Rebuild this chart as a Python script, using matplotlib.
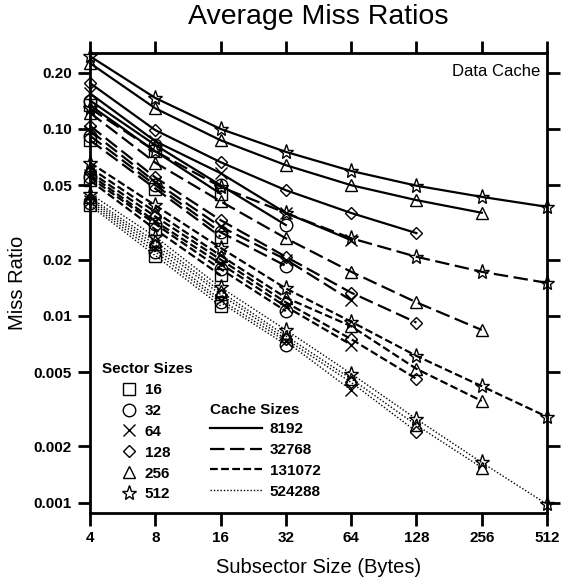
import numpy as np
import matplotlib.pyplot as plt
from matplotlib.lines import Line2D
from matplotlib.ticker import NullLocator

plt.rcParams['font.family'] = ['Liberation Sans', 'DejaVu Sans']

subsector_sizes = [4, 8, 16, 32, 64, 128, 256, 512]
sector_sizes = [16, 32, 64, 128, 256, 512]
cache_sizes = [8192, 32768, 131072, 524288]

# miss ratio, one row per sector size, subsector sizes 4 .. sector size
miss_8192 = [
    [0.134, 0.076, 0.045],
    [0.142, 0.082, 0.050, 0.0306],
    [0.155, 0.086, 0.058, 0.0355, 0.0254],
    [0.176, 0.0986, 0.0664, 0.047, 0.0355, 0.0277],
    [0.225, 0.129, 0.087, 0.064, 0.050, 0.0416, 0.0356],
    [0.245, 0.1465, 0.100, 0.0754, 0.0596, 0.0497, 0.0433, 0.0383],
]
miss_32768 = [
    [0.087, 0.048, 0.0265],
    [0.092, 0.050, 0.028, 0.0185],
    [0.098, 0.052, 0.030, 0.020, 0.0121],
    [0.104, 0.055, 0.0325, 0.0207, 0.0133, 0.0092],
    [0.122, 0.066, 0.041, 0.026, 0.0172, 0.0118, 0.0084],
    [0.129, 0.076, 0.049, 0.0355, 0.026, 0.0207, 0.0172, 0.0150],
]
miss_131072 = [
    [0.053, 0.029, 0.0165],
    [0.055, 0.031, 0.0178, 0.0106],
    [0.057, 0.032, 0.019, 0.0112, 0.0070],
    [0.059, 0.034, 0.020, 0.0118, 0.0075, 0.0046],
    [0.062, 0.036, 0.021, 0.0125, 0.0088, 0.0052, 0.0035],
    [0.066, 0.039, 0.0231, 0.0140, 0.0093, 0.0061, 0.0042, 0.00288],
]
miss_524288 = [
    [0.039, 0.021, 0.0113],
    [0.040, 0.022, 0.0118, 0.0070],
    [0.041, 0.023, 0.0122, 0.0073, 0.0040],
    [0.042, 0.024, 0.0130, 0.0075, 0.0044, 0.0024],
    [0.043, 0.025, 0.0135, 0.0078, 0.0046, 0.0026, 0.00154],
    [0.045, 0.0265, 0.0142, 0.0084, 0.0049, 0.0028, 0.00164, 0.00098],
]

y_ticks = [0.001, 0.002, 0.005, 0.01, 0.02, 0.05, 0.10, 0.20]
y_tick_labels = ['0.001', '0.002', '0.005', '0.01', '0.02', '0.05', '0.10', '0.20']

markers = ['s', 'o', 'x', 'D', '^', '*']
marker_sizes = [9, 9, 9, 6.5, 9, 11]
line_styles = [
    dict(linestyle='-', linewidth=1.6),
    dict(linestyle=(0, (6.5, 2.5)), linewidth=1.6),
    dict(linestyle=(0, (3.5, 1.5)), linewidth=1.6),
    dict(linestyle=(0, (1, 1.4)), linewidth=1.0),
]

fig = plt.figure(figsize=(5.73, 5.77), dpi=100)
ax = fig.add_axes([90 / 573, 1 - 513 / 577, 457 / 573, 460 / 577])

all_miss = [miss_8192, miss_32768, miss_131072, miss_524288]
for c, miss in enumerate(all_miss):
    for s, vals in enumerate(miss):
        xs = subsector_sizes[:len(vals)]
        ax.plot(xs, vals, color='black', marker=markers[s], markersize=marker_sizes[s],
                markerfacecolor='none', markeredgecolor='black', markeredgewidth=1.0,
                clip_on=False, **line_styles[c])

ax.set_xscale('log', base=2)
ax.set_yscale('log')
ax.set_xlim(4, 512)
ax.set_ylim(0.00088, 0.255)
ax.set_xticks(subsector_sizes)
ax.set_xticklabels([str(v) for v in subsector_sizes])
ax.set_yticks(y_ticks)
ax.set_yticklabels(y_tick_labels)
ax.xaxis.set_minor_locator(NullLocator())
ax.yaxis.set_minor_locator(NullLocator())
ax.tick_params(direction='out', length=9, width=2, top=True, right=True,
               labeltop=False, labelright=False, labelsize=11, pad=4)
for lbl in ax.get_xticklabels() + ax.get_yticklabels():
    lbl.set_fontweight('bold')
for sp in ax.spines.values():
    sp.set_linewidth(2)

ax.set_xlabel('Subsector Size (Bytes)', fontsize=14.5, labelpad=9)
ax.set_ylabel('Miss Ratio', fontsize=14.5, labelpad=5)
fig.text(318 / 573, 1 - 17 / 577, 'Average Miss Ratios', fontsize=20.5,
         ha='center', va='center')
ax.text(0.985, 0.959, 'Data Cache', transform=ax.transAxes, fontsize=12,
        ha='right', va='center')

# sector size legend
fig.text(102 / 573, 1 - 369 / 577, 'Sector Sizes', fontsize=11, fontweight='bold',
         ha='left', va='center')
sector_handles = [Line2D([], [], linestyle='none', marker=markers[i], markersize=marker_sizes[i],
                         markerfacecolor='none', markeredgecolor='black', markeredgewidth=1.0)
                  for i in range(len(sector_sizes))]
leg1 = ax.legend(sector_handles, [str(s) for s in sector_sizes], loc='upper left',
                 bbox_to_anchor=(118 / 573, 1 - 383 / 577), bbox_transform=fig.transFigure,
                 frameon=False, borderpad=0, borderaxespad=0, handlelength=1.5,
                 handletextpad=0.25, labelspacing=0.45, prop=dict(size=11, weight='bold'))
ax.add_artist(leg1)

# cache size legend
fig.text(210 / 573, 1 - 410 / 577, 'Cache Sizes', fontsize=11, fontweight='bold',
         ha='left', va='center')
cache_handles = [Line2D([], [], color='black', **line_styles[i]) for i in range(len(cache_sizes))]
ax.legend(cache_handles, [str(c) for c in cache_sizes], loc='upper left',
          bbox_to_anchor=(210 / 573, 1 - 422 / 577), bbox_transform=fig.transFigure,
          frameon=False, borderpad=0, borderaxespad=0, handlelength=3.4,
          handletextpad=0.5, labelspacing=0.45, prop=dict(size=11, weight='bold'))

fig.savefig('out.png', dpi=100)
